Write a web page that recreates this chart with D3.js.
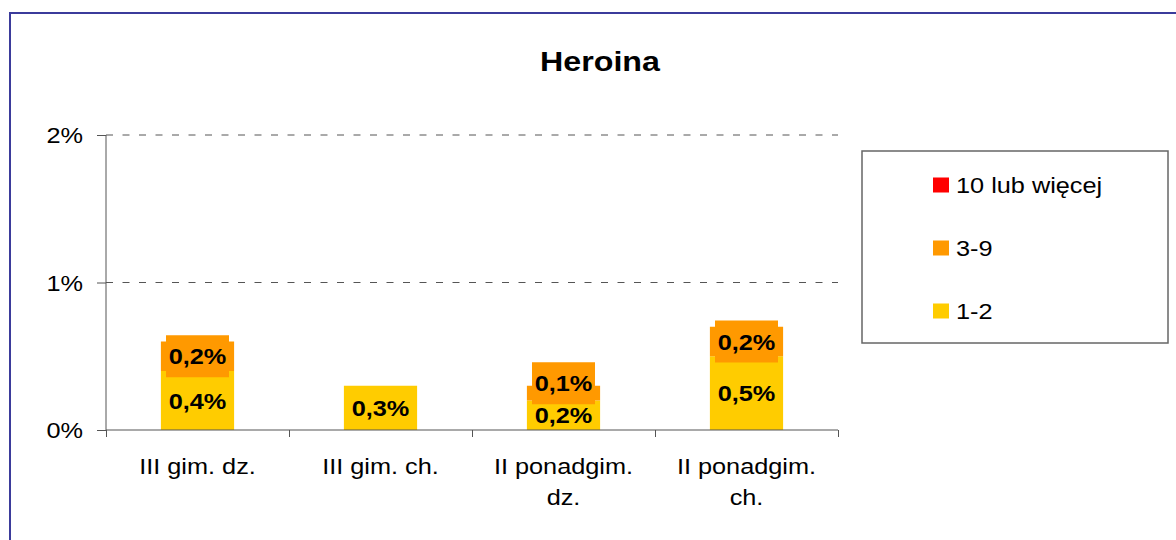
<!DOCTYPE html>
<html>
<head>
<meta charset="utf-8">
<script src="https://cdn.jsdelivr.net/npm/d3@7"></script>
<style>
  body { margin: 0; background: #fff; }
  svg { display: block; font-family: "Liberation Sans", Arial, sans-serif; }
</style>
</head>
<body>
<svg id="chart" width="1176" height="540"></svg>
<script>
// data (percent)
const categories = ['III gim. dz.', 'III gim. ch.', 'II ponadgim. dz.', 'II ponadgim. ch.'];
const seriesNames = ['1-2', '3-9', '10 lub więcej'];
const values12 = [0.4, 0.3, 0.2, 0.5];
const values39 = [0.2, 0, 0.1, 0.2];
const values10 = [0, 0, 0, 0];
const seriesColors = ['#FFCC00', '#FF9900', '#FF0000'];
const yTicks = [0, 1, 2];
const title = 'Heroina';

// the original text is a bit wide, stretch it a little
const SX = 1.15;

const svg = d3.select('#chart');

const plot = { left: 106, right: 838, top: 135, bottom: 430 };

function label(parent, x, y, str, size, anchor, weight) {
	return parent.append('text')
		.attr('transform', `translate(${x},${y}) scale(${SX},1)`)
		.attr('text-anchor', anchor || 'middle')
		.attr('font-size', size)
		.attr('font-weight', weight || 'normal')
		.attr('fill', '#000')
		.text(str);
}

// outer frame
svg.append('rect')
	.attr('x', 10).attr('y', 13)
	.attr('width', 1300).attr('height', 700)
	.attr('fill', 'none')
	.attr('stroke', '#3b3b9b')
	.attr('stroke-width', 2);

label(svg, 600, 71, title, 28, 'middle', 'bold');

const rows = categories.map((c, i) => ({
	cat: c, s0: values12[i], s1: values39[i], s2: values10[i]
}));
const stack = d3.stack().keys(['s0', 's1', 's2']);
const layers = stack(rows);

const x = d3.scaleBand()
	.domain(categories)
	.range([plot.left, plot.right]);

const xEdges = d3.scaleLinear()
	.domain([0, categories.length])
	.range([plot.left, plot.right]);

const y = d3.scaleLinear()
	.domain([0, d3.max(yTicks)])
	.range([plot.bottom, plot.top]);

// dashed grid lines
svg.append('g')
	.selectAll('line')
	.data(yTicks.filter(d => d > 0))
	.enter().append('line')
	.attr('x1', plot.left).attr('x2', plot.right)
	.attr('y1', d => y(d)).attr('y2', d => y(d))
	.attr('stroke', '#555')
	.attr('stroke-width', 1)
	.attr('stroke-dasharray', '7,9.5');

// bars
const barW = x.bandwidth() * 0.4;
const barGroups = svg.append('g')
	.selectAll('g')
	.data(layers)
	.enter().append('g')
	.attr('fill', (d, i) => seriesColors[i]);

barGroups.selectAll('rect')
	.data(d => d)
	.enter().append('rect')
	.attr('x', d => x(d.data.cat) + (x.bandwidth() - barW) / 2)
	.attr('y', d => y(d[1]))
	.attr('width', barW)
	.attr('height', d => y(d[0]) - y(d[1]));

// data labels with filled boxes, pushed up when they crowd
const fmt = v => String(v).replace('.', ',') + '%';
const labelsLayer = svg.append('g');
categories.forEach((c, ci) => {
	let prevCy = null;
	layers.forEach((layer, si) => {
		const d = layer[ci];
		const v = d[1] - d[0];
		if (v <= 0) return;
		let cy = (y(d[0]) + y(d[1])) / 2;
		if (prevCy !== null && prevCy - cy < 32) cy = prevCy - 32;
		prevCy = cy;
		const cx = x(c) + x.bandwidth() / 2;
		const top = cy - 21;
		const bottom = Math.min(cy + 21, plot.bottom);
		labelsLayer.append('rect')
			.attr('x', cx - 31.5).attr('y', top)
			.attr('width', 63).attr('height', bottom - top)
			.attr('fill', seriesColors[si]);
		label(labelsLayer, cx, cy + 8, fmt(Math.round(v * 10) / 10), 22, 'middle', 'bold');
	});
});

// y axis
const yAxis = svg.append('g')
	.attr('transform', `translate(${plot.left},0)`)
	.call(d3.axisLeft(y).tickValues(yTicks).tickSize(9).tickFormat(''));
yAxis.selectAll('path, line').attr('stroke', '#555');
yAxis.select('.domain').attr('d', `M0,${plot.top}V${plot.bottom}`);

yTicks.forEach(t => {
	label(svg, 83, y(t) + 8, t + '%', 22, 'end');
});

// x axis, ticks between categories
const xAxis = svg.append('g')
	.attr('transform', `translate(0,${plot.bottom})`)
	.call(d3.axisBottom(xEdges).ticks(categories.length).tickSize(7).tickFormat(''));
xAxis.selectAll('path, line').attr('stroke', '#555');
xAxis.select('.domain').attr('d', `M${plot.left},0H${plot.right}`);

// category labels, wrapped
categories.forEach(c => {
	const words = c.split(' ');
	const lines = [];
	let cur = '';
	words.forEach(w => {
		const test = cur ? cur + ' ' + w : w;
		const t = svg.append('text').attr('font-size', 22).text(test);
		const wd = t.node().getComputedTextLength() * SX;
		t.remove();
		if (wd > 160 && cur) {
			lines.push(cur);
			cur = w;
		} else {
			cur = test;
		}
	});
	lines.push(cur);
	lines.forEach((ln, k) => {
		label(svg, x(c) + x.bandwidth() / 2, 474 + k * 31, ln, 22, 'middle');
	});
});

// legend
const legend = svg.append('g');
legend.append('rect')
	.attr('x', 862).attr('y', 151)
	.attr('width', 306).attr('height', 192)
	.attr('fill', '#fff')
	.attr('stroke', '#666')
	.attr('stroke-width', 1.5);

const legendOrder = [2, 1, 0];
const legendY = d3.scalePoint()
	.domain(legendOrder)
	.range([185, 311]);

legendOrder.forEach(si => {
	legend.append('rect')
		.attr('x', 933).attr('y', legendY(si) - 7.5)
		.attr('width', 16).attr('height', 15)
		.attr('fill', seriesColors[si]);
	label(legend, 956, legendY(si) + 8, seriesNames[si], 22, 'start');
});
</script>
</body>
</html>
